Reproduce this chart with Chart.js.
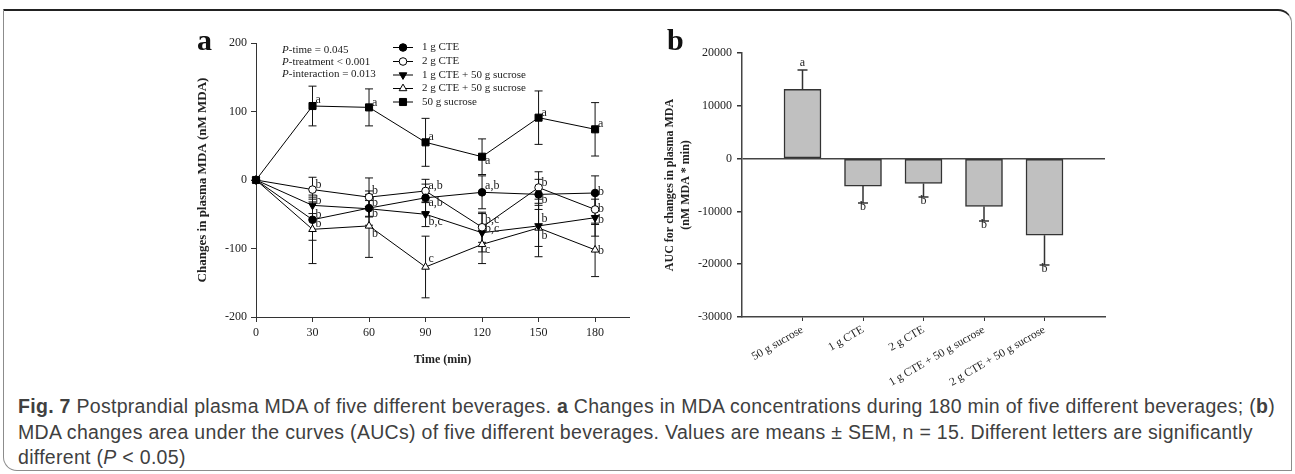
<!DOCTYPE html>
<html><head><meta charset="utf-8">
<script src="https://cdn.jsdelivr.net/npm/chart.js@4/dist/chart.umd.min.js"></script>
<style>
html,body{margin:0;padding:0;background:#fff;}
body{width:1295px;height:474px;position:relative;overflow:hidden;}
#frame{position:absolute;left:3px;top:9px;width:1289px;height:462px;border:1px solid #8c8c8c;border-top:2.5px solid #222;border-radius:0 14px 0 14px;box-sizing:border-box;}
canvas{position:absolute;}
#ca{left:150px;top:20px;}
#cb{left:640px;top:20px;}
.panel{position:absolute;font-family:'Liberation Serif','Times New Roman',serif;font-weight:bold;font-size:30px;line-height:30px;color:#111;}
#caption{position:absolute;left:18px;top:394px;font-family:'Liberation Sans','Arial',sans-serif;font-size:19.5px;line-height:25.5px;color:#404040;white-space:nowrap;}
#caption div{display:block;}
#caption span.l{display:inline-block;}
</style>
</head><body>
<div id="frame"></div>
<canvas id="ca" width="500" height="370"></canvas>
<canvas id="cb" width="480" height="370"></canvas>
<div class="panel" style="left:197px;top:25px;">a</div>
<div class="panel" style="left:667px;top:25px;">b</div>
<div id="caption"><div><span class="l" id="cap1"><b>Fig. 7</b> Postprandial plasma MDA of five different beverages. <b>a</b> Changes in MDA concentrations during 180 min of five different beverages; (<b>b</b>)</span></div><div><span class="l">MDA changes area under the curves (AUCs) of five different beverages. Values are means ± SEM, n = 15. Different letters are significantly</span></div><div><span class="l">different (<i>P</i> &lt; 0.05)</span></div></div>
<script>
// ---------- Panel a data ----------
const timePoints = [0, 30, 60, 90, 120, 150, 180];
const timeTicks = [0, 30, 60, 90, 120, 150, 180];
const mdaTicks = [-200, -100, 0, 100, 200];
const seriesNames = ['1 g CTE', '2 g CTE', '1 g CTE + 50 g sucrose', '2 g CTE + 50 g sucrose', '50 g sucrose'];

const mean1gCTE = [0, -58, -41, -26, -18, -21, -19];
const sem1gCTE = [0, 30, 25, 20, 24, 22, 25];
const letters1gCTE = ['', 'b', 'b', 'a,b', 'a,b', 'b', 'b'];

const mean2gCTE = [0, -14, -25, -16, -69, -11, -43];
const sem2gCTE = [0, 18, 28, 17, 22, 23, 22];
const letters2gCTE = ['', 'b', 'b', 'a,b', 'b,c', 'b', 'b'];

const mean1gCTESuc = [0, -37, -42, -50, -77, -67, -55];
const sem1gCTESuc = [0, 12, 12, 18, 28, 30, 27];
const letters1gCTESuc = ['', 'b', 'b', 'b,c', 'b,c', 'b', 'b'];

const mean2gCTESuc = [0, -72, -67, -127, -94, -70, -102];
const sem2gCTESuc = [0, 50, 46, 45, 28, 42, 39];
const letters2gCTESuc = ['', 'b', 'b', 'c', 'c', 'b', 'b'];

const meanSucrose = [0, 108, 106, 55, 34, 91, 74];
const semSucrose = [0, 29, 27, 35, 26, 39, 39];
const lettersSucrose = ['', 'a', 'a', 'a', 'a', 'a', 'a'];

const pLabels = ['-time = 0.045', '-treatment < 0.001', '-interaction = 0.013'];

// ---------- Panel b data ----------
const aucGroups = ['50 g sucrose', '1 g CTE', '2 g CTE', '1 g CTE + 50 g sucrose', '2 g CTE + 50 g sucrose'];
const aucMeans = [13100, -5200, -4700, -9050, -14500];
const aucSem = [3700, 3200, 2550, 2750, 5650];
const aucLetters = ['a', 'b', 'b', 'b', 'b'];
const aucTicks = [-30000, -20000, -10000, 0, 10000, 20000];

// ---------- caption fit ----------
(function fitCaption() {
  const cap = document.getElementById('caption');
  const l1 = document.getElementById('cap1');
  const w = l1.getBoundingClientRect().width;
  const n = l1.textContent.length;
  const ls = (1257 - w) / n;
  cap.style.letterSpacing = ls.toFixed(3) + 'px';
})();

// ---------- common ----------
const SERIF = "'Liberation Serif','Times New Roman',serif";
Chart.defaults.font.family = SERIF;
Chart.defaults.color = '#222';

const seriesMeans = [mean1gCTE, mean2gCTE, mean1gCTESuc, mean2gCTESuc, meanSucrose];
const seriesSem = [sem1gCTE, sem2gCTE, sem1gCTESuc, sem2gCTESuc, semSucrose];
const seriesLetters = [letters1gCTE, letters2gCTE, letters1gCTESuc, letters2gCTESuc, lettersSucrose];

const markerStyles = [
  {pointStyle: 'circle', pointRadius: 3.8, pointBackgroundColor: '#000', pointRotation: 0},
  {pointStyle: 'circle', pointRadius: 3.8, pointBackgroundColor: '#fff', pointRotation: 0},
  {pointStyle: 'triangle', pointRadius: 4.4, pointBackgroundColor: '#000', pointRotation: 180},
  {pointStyle: 'triangle', pointRadius: 4.4, pointBackgroundColor: '#fff', pointRotation: 0},
  {pointStyle: 'rect', pointRadius: 5, pointBackgroundColor: '#000', pointRotation: 0}
];
// vertical offset of significance letters (px) for each point
const letterDy = [
  [0, -5, -5, 5, -6, 5, -1],
  [0, -5, -6, -5, -7, -5, -1],
  [0, -5, 5, 8, -4, -7, 2],
  [0, -5, 8, -8, 5, 8, 1],
  [0, -6, -5, -5, 4, -5, -5]
];

const datasetsA = seriesNames.map((name, i) => Object.assign({
  label: name,
  data: timePoints.map((t, j) => ({x: t, y: seriesMeans[i][j]})),
  borderColor: '#000',
  borderWidth: 1,
  pointBorderColor: '#000',
  pointBorderWidth: 1,
  tension: 0,
  fill: false,
  clip: false
}, markerStyles[i]));

const errorBarsA = {
  id: 'errorBarsA',
  beforeDatasetsDraw(chart) {
    const ctx = chart.ctx, ys = chart.scales.y;
    ctx.save();
    ctx.strokeStyle = '#111';
    ctx.lineWidth = 1;
    chart.data.datasets.forEach((ds, i) => {
      const meta = chart.getDatasetMeta(i);
      meta.data.forEach((pt, j) => {
        const s = seriesSem[i][j];
        if (!s) return;
        const m = seriesMeans[i][j];
        const x = pt.x, y1 = ys.getPixelForValue(m + s), y2 = ys.getPixelForValue(m - s);
        ctx.beginPath();
        ctx.moveTo(x, y1); ctx.lineTo(x, y2);
        ctx.moveTo(x - 4, y1); ctx.lineTo(x + 4, y1);
        ctx.moveTo(x - 4, y2); ctx.lineTo(x + 4, y2);
        ctx.stroke();
      });
    });
    ctx.restore();
  },
  afterDatasetsDraw(chart) {
    const ctx = chart.ctx;
    ctx.save();
    ctx.fillStyle = '#222';
    ctx.font = '12px ' + SERIF;
    ctx.textAlign = 'left';
    ctx.textBaseline = 'middle';
    chart.data.datasets.forEach((ds, i) => {
      const meta = chart.getDatasetMeta(i);
      meta.data.forEach((pt, j) => {
        const t = seriesLetters[i][j];
        if (!t) return;
        ctx.fillText(t, pt.x + 3, pt.y + letterDy[i][j]);
      });
    });
    // P values
    const px = 132, py = [30, 42, 54];
    pLabels.forEach((txt, k) => {
      ctx.font = 'italic 11px ' + SERIF;
      ctx.fillText('P', px, py[k]);
      const w = ctx.measureText('P').width;
      ctx.font = '11px ' + SERIF;
      ctx.fillText(txt, px + w, py[k]);
    });
    // legend
    const ly = [27.5, 41.5, 55, 68.5, 82];
    chart.data.datasets.forEach((ds, i) => {
      const y = ly[i];
      ctx.strokeStyle = '#000';
      ctx.lineWidth = 1;
      ctx.beginPath(); ctx.moveTo(243, y); ctx.lineTo(263, y); ctx.stroke();
      ctx.fillStyle = markerStyles[i].pointBackgroundColor;
      Chart.helpers.drawPoint(ctx, {pointStyle: markerStyles[i].pointStyle, radius: markerStyles[i].pointRadius, rotation: markerStyles[i].pointRotation, borderWidth: 1}, 253, y);
      ctx.fillStyle = '#222';
      ctx.font = '11px ' + SERIF;
      ctx.fillText(ds.label, 272, y);
    });
    ctx.restore();
  }
};

new Chart(document.getElementById('ca'), {
  type: 'line',
  data: {datasets: datasetsA},
  options: {
    responsive: false, animation: false,
    layout: {padding: {left: 0, top: 23, right: 21, bottom: 0}},
    plugins: {legend: {display: false}, tooltip: {enabled: false}},
    scales: {
      x: {
        type: 'linear', min: 0, max: 198,
        afterBuildTicks: s => { s.ticks = timeTicks.map(v => ({value: v})); },
        afterFit: s => { s.height = 73; },
        grid: {drawOnChartArea: false, tickLength: 5, color: '#333'},
        border: {color: '#333', width: 1},
        ticks: {font: {size: 12}, padding: 4, maxRotation: 0, callback: v => String(v)},
        title: {display: true, text: 'Time (min)', font: {size: 12, weight: 'bold'}, padding: {top: 0, bottom: 23}}
      },
      y: {
        min: -200, max: 200,
        afterBuildTicks: s => { s.ticks = mdaTicks.map(v => ({value: v})); },
        afterFit: s => { s.width = 106; },
        grid: {drawOnChartArea: false, tickLength: 5, color: '#333'},
        border: {color: '#333', width: 1},
        ticks: {font: {size: 12}, padding: 4, callback: v => String(v)},
        title: {display: true, text: 'Changes in plasma MDA (nM MDA)', font: {size: 13, weight: 'bold'}, padding: {top: 45, bottom: 0}}
      }
    }
  },
  plugins: [errorBarsA]
});

// ---------- Panel b ----------
const axisLabelsB = [''].concat(aucGroups, ['']);
const barValuesB = [null].concat(aucMeans, [null]);

const errorBarsB = {
  id: 'errorBarsB',
  afterDatasetsDraw(chart) {
    const ctx = chart.ctx, ys = chart.scales.y;
    const meta = chart.getDatasetMeta(0);
    ctx.save();
    ctx.strokeStyle = '#333';
    ctx.lineWidth = 1.5;
    ctx.fillStyle = '#222';
    ctx.font = '12px ' + SERIF;
    ctx.textAlign = 'center';
    aucMeans.forEach((m, j) => {
      const bar = meta.data[j + 1];
      const x = bar.x;
      const sign = m >= 0 ? 1 : -1;
      const y0 = ys.getPixelForValue(m), y1 = ys.getPixelForValue(m + sign * aucSem[j]);
      ctx.beginPath();
      ctx.moveTo(x, y0); ctx.lineTo(x, y1);
      ctx.moveTo(x - 5, y1); ctx.lineTo(x + 5, y1);
      ctx.stroke();
      if (sign > 0) { ctx.textBaseline = 'bottom'; ctx.fillText(aucLetters[j], x, y1 - 1); }
      else { ctx.textBaseline = 'top'; ctx.fillText(aucLetters[j], x, y1 - 2); }
    });
    ctx.restore();
  }
};

new Chart(document.getElementById('cb'), {
  type: 'bar',
  data: {
    labels: axisLabelsB,
    datasets: [{
      data: barValuesB,
      backgroundColor: '#c0c0c0',
      borderColor: '#333',
      borderWidth: 1.5,
      borderSkipped: false,
      barThickness: 37
    }]
  },
  options: {
    responsive: false, animation: false,
    layout: {padding: {left: 0, top: 33, right: 15, bottom: 0}},
    plugins: {legend: {display: false}, tooltip: {enabled: false}},
    scales: {
      x: {
        type: 'category', offset: false,
        afterFit: s => { s.height = 73; },
        grid: {
          offset: false,
          color: ctx => 'transparent',
          tickColor: ctx => (ctx.index === 0 || ctx.index === axisLabelsB.length - 1) ? 'transparent' : '#333',
          tickLength: 4
        },
        border: {color: '#444', width: 1.5},
        ticks: {font: {size: 11.5}, padding: 2, autoSkip: false, minRotation: 30, maxRotation: 30}
      },
      y: {
        min: -30000, max: 20000,
        afterBuildTicks: s => { s.ticks = aucTicks.map(v => ({value: v})); },
        afterFit: s => { s.width = 102; },
        grid: {
          color: ctx => (ctx.tick && ctx.tick.value === 0) ? '#444' : 'transparent',
          lineWidth: 1.5,
          tickColor: '#333',
          tickLength: 5
        },
        border: {color: '#444', width: 1.5},
        ticks: {font: {size: 12}, padding: 5, callback: v => String(v)},
        title: {display: true, text: ['AUC for changes in plasma MDA', '(nM MDA * min)'], font: {size: 12, weight: 'bold', lineHeight: 1.35}, padding: {top: 22, bottom: 0}}
      }
    }
  },
  plugins: [errorBarsB]
});
</script>
</body></html>
